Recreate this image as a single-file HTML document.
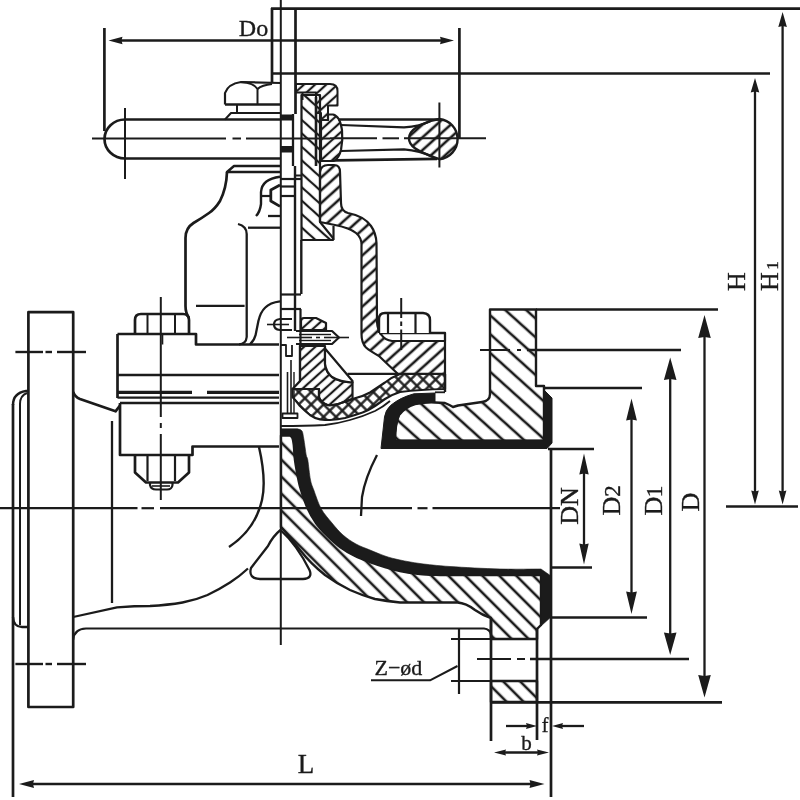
<!DOCTYPE html>
<html><head><meta charset="utf-8"><title>Diaphragm valve</title>
<style>
html,body{margin:0;padding:0;background:#fff;}
body{width:800px;height:800px;overflow:hidden;font-family:"Liberation Serif",serif;}
svg{display:block;filter:grayscale(1) blur(0.35px)}
svg text{font-family:"Liberation Serif",serif;fill:#1b1b1b;stroke:#1b1b1b;stroke-width:0.35px}
</style></head><body>
<svg width="800" height="800" viewBox="0 0 800 800" fill="none" stroke="#1b1b1b" stroke-linecap="butt" stroke-linejoin="round">
<defs>
<!-- "\" hatch, upper flange/body -->
<pattern id="hA" width="14" height="14" patternUnits="userSpaceOnUse" patternTransform="translate(4 0) rotate(42)">
<line x1="-1" y1="7" x2="16" y2="7" stroke="#1b1b1b" stroke-width="2.6"/>
</pattern>
<!-- "\" hatch, lower body -->
<pattern id="hA1" width="12" height="12" patternUnits="userSpaceOnUse" patternTransform="rotate(45)">
<line x1="-1" y1="6" x2="13" y2="6" stroke="#1b1b1b" stroke-width="2.6"/>
</pattern>
<!-- "\" hatch fine, sleeve -->
<pattern id="hA2" width="10" height="10" patternUnits="userSpaceOnUse" patternTransform="translate(0 3) rotate(42)">
<line x1="-1" y1="5" x2="11" y2="5" stroke="#1b1b1b" stroke-width="2.2"/>
</pattern>
<!-- "/" hatch, bonnet -->
<pattern id="hB" width="9.5" height="9.5" patternUnits="userSpaceOnUse" patternTransform="rotate(-42)">
<line x1="-1" y1="4.75" x2="11" y2="4.75" stroke="#1b1b1b" stroke-width="2.6"/>
</pattern>
<!-- "/" hatch fine, small parts -->
<pattern id="hB2" width="7.5" height="7.5" patternUnits="userSpaceOnUse" patternTransform="rotate(-42)">
<line x1="-1" y1="3.75" x2="9" y2="3.75" stroke="#1b1b1b" stroke-width="2.2"/>
</pattern>
<!-- cross hatch, diaphragm -->
<pattern id="hX" width="8.8" height="8.8" patternUnits="userSpaceOnUse" patternTransform="rotate(45)">
<line x1="-1" y1="4.4" x2="10" y2="4.4" stroke="#1b1b1b" stroke-width="2.3"/>
<line x1="4.4" y1="-1" x2="4.4" y2="10" stroke="#1b1b1b" stroke-width="2.3"/>
</pattern>
</defs>

<rect x="0" y="0" width="800" height="800" fill="#fff" stroke="none"/>
<g id="dims">
<line x1="271" y1="8.7" x2="800" y2="8.7" stroke-width="2.7" />
<line x1="272" y1="73.5" x2="770" y2="73.5" stroke-width="2.7" />
<line x1="272" y1="8" x2="272" y2="82" stroke-width="2.7" />
<line x1="295.5" y1="8" x2="295.5" y2="114" stroke-width="2.7" />
<line x1="280.8" y1="0" x2="280.8" y2="645" stroke-width="2" />
<line x1="0" y1="508.2" x2="137.5" y2="508.2" stroke-width="2.2" />
<line x1="141.5" y1="508.2" x2="154" y2="508.2" stroke-width="2.2" />
<line x1="160" y1="508.2" x2="412" y2="508.2" stroke-width="2.2" />
<line x1="417.5" y1="508.2" x2="427.5" y2="508.2" stroke-width="2.2" />
<line x1="432.5" y1="508.2" x2="560" y2="508.2" stroke-width="2.2" />
<line x1="104.4" y1="28" x2="104.4" y2="131" stroke-width="2.7" />
<line x1="459.4" y1="28" x2="459.4" y2="138" stroke-width="2.7" />
<line x1="116" y1="40.5" x2="447" y2="40.5" stroke-width="2.3" />
<polygon points="108.5,40.5 122.5,36.7 121.5,40.5 122.5,44.3" fill="#1b1b1b" stroke="none"/>
<polygon points="454,40.5 440,36.7 441,40.5 440,44.3" fill="#1b1b1b" stroke="none"/>
<text x="253.5" y="35.5" font-size="24" text-anchor="middle" >Do</text>
<line x1="782.6" y1="22" x2="782.6" y2="496" stroke-width="2.3" />
<polygon points="782.6,12 778.3000000000001,27 782.6,26 786.9,27" fill="#1b1b1b" stroke="none"/>
<polygon points="782.6,504.5 778.8000000000001,490.5 782.6,491.5 786.4,490.5" fill="#1b1b1b" stroke="none"/>
<line x1="755" y1="87" x2="755" y2="496" stroke-width="2.3" />
<polygon points="755,78 750.7,92.5 755,91.5 759.3,92.5" fill="#1b1b1b" stroke="none"/>
<polygon points="755,504.5 751.2,490.5 755,491.5 758.8,490.5" fill="#1b1b1b" stroke="none"/>
<line x1="726" y1="506.5" x2="798" y2="506.5" stroke-width="2.7" />
<text x="745" y="281.5" font-size="26" text-anchor="middle" transform="rotate(-90 745 281.5)" >H</text>
<text x="777.5" y="281.5" font-size="26" text-anchor="middle" transform="rotate(-90 777.5 281.5)" >H</text>
<text x="777.5" y="265.5" font-size="17" text-anchor="middle" transform="rotate(-90 777.5 265.5)" >1</text>
<line x1="536" y1="309.5" x2="718" y2="309.5" stroke-width="2.7" />
<line x1="491" y1="702.3" x2="722" y2="702.3" stroke-width="2.7" />
<line x1="704.5" y1="332" x2="704.5" y2="682" stroke-width="2.3" />
<polygon points="704.5,315 698.2,338 704.5,337 710.8,338" fill="#1b1b1b" stroke="none"/>
<polygon points="704.5,697.5 698.2,675.0 704.5,676.0 710.8,675.0" fill="#1b1b1b" stroke="none"/>
<text x="698.7" y="502" font-size="26" text-anchor="middle" transform="rotate(-90 698.7 502)" >D</text>
<line x1="480" y1="350" x2="510" y2="350" stroke-width="2" />
<line x1="517" y1="350" x2="521" y2="350" stroke-width="2" />
<line x1="527" y1="350" x2="681" y2="350" stroke-width="2.7" />
<line x1="477" y1="659" x2="511" y2="659" stroke-width="2" />
<line x1="517" y1="659" x2="525" y2="659" stroke-width="2" />
<line x1="530" y1="659" x2="689" y2="659" stroke-width="2.7" />
<line x1="670.2" y1="377" x2="670.2" y2="638" stroke-width="2.3" />
<polygon points="670.2,357.5 663.9000000000001,380.0 670.2,379.0 676.5,380.0" fill="#1b1b1b" stroke="none"/>
<polygon points="670.2,655 663.9000000000001,632.5 670.2,633.5 676.5,632.5" fill="#1b1b1b" stroke="none"/>
<text x="661.6" y="506" font-size="26" text-anchor="middle" transform="rotate(-90 661.6 506)" >D</text>
<text x="661.6" y="491.5" font-size="24" text-anchor="middle" transform="rotate(-90 661.6 491.5)" >1</text>
<line x1="544" y1="388" x2="642" y2="388" stroke-width="2.7" />
<line x1="551" y1="617.5" x2="647" y2="617.5" stroke-width="2.7" />
<line x1="631.5" y1="417" x2="631.5" y2="598" stroke-width="2.3" />
<polygon points="631.5,398.5 626.1,420.5 631.5,419.5 636.9,420.5" fill="#1b1b1b" stroke="none"/>
<polygon points="631.5,614 626.1,591.5 631.5,592.5 636.9,591.5" fill="#1b1b1b" stroke="none"/>
<text x="620" y="506" font-size="26" text-anchor="middle" transform="rotate(-90 620 506)" >D</text>
<text x="620" y="491" font-size="23" text-anchor="middle" transform="rotate(-90 620 491)" >2</text>
<line x1="548" y1="449" x2="594" y2="449" stroke-width="2.7" />
<line x1="551" y1="567.5" x2="592" y2="567.5" stroke-width="2.7" />
<line x1="584" y1="472" x2="584" y2="548" stroke-width="2.3" />
<polygon points="584,453.5 579.3,474.5 584,473.5 588.7,474.5" fill="#1b1b1b" stroke="none"/>
<polygon points="584,564.5 579.3,543.5 584,544.5 588.7,543.5" fill="#1b1b1b" stroke="none"/>
<text x="577.6" y="506" font-size="26" text-anchor="middle" transform="rotate(-90 577.6 506)" >DN</text>
<line x1="551" y1="449" x2="551" y2="797" stroke-width="2.7" />
<line x1="13" y1="404" x2="13" y2="797" stroke-width="2.7" />
<line x1="31" y1="784" x2="534" y2="784" stroke-width="2.3" />
<polygon points="19,784 34,780 33,784 34,788" fill="#1b1b1b" stroke="none"/>
<polygon points="544.5,784 529.5,780 530.5,784 529.5,788" fill="#1b1b1b" stroke="none"/>
<text x="306" y="772.7" font-size="27" text-anchor="middle" >L</text>
<line x1="506" y1="726" x2="529" y2="726" stroke-width="2.3" />
<polygon points="537,726 526,723 527,726 526,729" fill="#1b1b1b" stroke="none"/>
<line x1="560" y1="726" x2="584" y2="726" stroke-width="2.3" />
<polygon points="552,726 563,723 562,726 563,729" fill="#1b1b1b" stroke="none"/>
<text x="545" y="732" font-size="20" text-anchor="middle" >f</text>
<line x1="503" y1="752.5" x2="540" y2="752.5" stroke-width="2.3" />
<polygon points="494,752.5 506,749.5 505,752.5 506,755.5" fill="#1b1b1b" stroke="none"/>
<polygon points="549,752.5 537,749.5 538,752.5 537,755.5" fill="#1b1b1b" stroke="none"/>
<text x="526.5" y="750" font-size="21" text-anchor="middle" >b</text>
<text x="374.5" y="675" font-size="22" text-anchor="start" >Z&#8722;&#248;d</text>
<path d="M371 680.3 H430 L457.5 666" stroke-width="2" fill="none" />
<line x1="459" y1="629" x2="459" y2="694" stroke-width="2.2" />
</g>
<g id="left">
<path d="M28.4 312.2 H73.2 V707 H28.4 Z" stroke-width="2.7" fill="none" />
<path d="M28.4 391 H26 Q13 393 13 405" stroke-width="2.4" fill="none" />
<path d="M13 617 Q13.5 627 22 627 H28.4" stroke-width="2.4" fill="none" />
<path d="M27 393 Q20 395.5 20 404 V625" stroke-width="2" fill="none" />
<line x1="15.4" y1="352" x2="43" y2="352" stroke-width="2.4" />
<line x1="45.5" y1="352" x2="52" y2="352" stroke-width="2.4" />
<line x1="57" y1="352" x2="86" y2="352" stroke-width="2.4" />
<line x1="15.4" y1="664" x2="43" y2="664" stroke-width="2.4" />
<line x1="45.5" y1="664" x2="52" y2="664" stroke-width="2.4" />
<line x1="57" y1="664" x2="86" y2="664" stroke-width="2.4" />
<path d="M73.2 392 Q75 397 80 399 L115.5 411.3 L120 405.6" stroke-width="2.7" fill="none" />
<line x1="112" y1="421" x2="112" y2="603" stroke-width="2.3" />
<path d="M73.2 617 L117 607.4 Q135 606 150 606 Q168 605 182.5 602.5 Q196 600 207.5 595 Q220 589 230 582.5 Q240 576 248 568.5" stroke-width="2.3" fill="none" />
<path d="M73.2 640 Q74 629 86 628.5 H484 Q490 629 491 635" stroke-width="2" fill="none" />
<path d="M117.5 334 H196 V344.5 H279" stroke-width="2.7" fill="none" />
<path d="M117.5 334 V398" stroke-width="2.7" fill="none" />
<line x1="162.5" y1="344.5" x2="162.5" y2="334" stroke-width="1.6" />
<line x1="117.5" y1="375" x2="279" y2="375" stroke-width="2.7" />
<line x1="117.5" y1="392.3" x2="192" y2="392.3" stroke-width="3.3" />
<line x1="207" y1="392.3" x2="279" y2="392.3" stroke-width="3.3" />
<line x1="117.5" y1="397.7" x2="279" y2="397.7" stroke-width="2.2" />
<line x1="120" y1="403" x2="279" y2="403" stroke-width="2.7" />
<path d="M120 403 V455 H192.5 V446.5 H279" stroke-width="2.7" fill="none" />
<path d="M135 334 V320 Q135 314 141 314 H183 Q189 314 189 320 V334" stroke-width="2.7" fill="none" />
<line x1="147.5" y1="314" x2="147.5" y2="334" stroke-width="2" />
<line x1="175" y1="314" x2="175" y2="334" stroke-width="2" />
<path d="M135 455 V472.5 L146 482.5 H178 L189 472.5 V455" stroke-width="2.7" fill="none" />
<line x1="147.5" y1="455" x2="147.5" y2="481" stroke-width="2.2" />
<line x1="175" y1="455" x2="175" y2="481" stroke-width="2.2" />
<path d="M150 482.5 V485 Q151 489.5 156 489.5 H167 Q172 489.5 172.5 485 V482.5" stroke-width="2.2" fill="none" />
<line x1="152" y1="486" x2="170" y2="486" stroke-width="1.6" />
<line x1="160.8" y1="297" x2="160.8" y2="417" stroke-width="2" />
<line x1="160.8" y1="423" x2="160.8" y2="428" stroke-width="2" />
<line x1="160.8" y1="434" x2="160.8" y2="500" stroke-width="2" />
<path d="M280 166 H234 L227 172 H280" stroke-width="2.4" fill="none" />
<path d="M227 172 Q226.5 188 220 201 Q215 209 209 213 Q202 218 193.5 223 Q185.5 228 185.5 238 V306 Q185.5 313 189 318" stroke-width="2.7" fill="none" />
<path d="M238 224 Q246.5 226 246.7 234 V337 Q246 344 239 344.4" stroke-width="2.3" fill="none" />
<line x1="196" y1="305.9" x2="244.6" y2="305.9" stroke-width="2.3" />
<line x1="248" y1="227.7" x2="280" y2="227.7" stroke-width="2.3" />
<line x1="268" y1="216" x2="280" y2="216" stroke-width="2.3" />
<path d="M280 176.8 Q262 179 261 192 V204 Q260 212 256 216" stroke-width="2.4" fill="none" />
<path d="M280 185 L270.8 190 V201 L280 206.4" stroke-width="2.8" fill="none" />
<line x1="261" y1="196" x2="271" y2="196" stroke-width="2.2" />
<path d="M250 344.4 Q254.5 340 255.6 335 L258.4 321 Q260.5 312 265.3 307.5 Q270 302.5 280 301.3" stroke-width="2.3" fill="none" />
<path d="M259 447 Q266.5 480 262 500 Q255 530 229 547" stroke-width="2.4" fill="none" />
<path d="M280.5 530 Q273 536 268 546 L251 568 Q248 578.5 260 579 H303 Q313 578.5 309.5 570 Q297 545 280.5 530 Z" stroke-width="2.3" fill="none" />
<path d="M280 119.5 H125 A20.5 19.5 0 0 0 125 158.5 H280" stroke-width="2.7" fill="none" />
<line x1="125" y1="108" x2="125" y2="179" stroke-width="2" />
<line x1="92" y1="138.5" x2="226" y2="138.5" stroke-width="2" />
<line x1="232.5" y1="138.5" x2="241" y2="138.5" stroke-width="2" />
<line x1="246" y1="138.5" x2="330" y2="138.5" stroke-width="2" />
<path d="M225 119.5 L231 113 H280" stroke-width="2" fill="none" />
<line x1="237" y1="104.5" x2="237" y2="113" stroke-width="2" />
<path d="M225 104.5 V93 Q228 84 241 82 L281 83" stroke-width="2.2" fill="none" />
<line x1="225" y1="104.5" x2="281" y2="104.5" stroke-width="2.7" />
<path d="M241 82 Q254 83 257.5 89 V104.5" stroke-width="2" fill="none" />
<path d="M257.5 89 Q262 85 272 84" stroke-width="2" fill="none" />
</g>
<g id="right">
<path d="M435 402.5 L445 403 Q450 405 453 407 L458 405.5 L482 402 Q490 401 490 394 V309.5 H536 V386 H544 V441 H395 Q395 424 399 415 Q405 407 415 404 Q426 402 435 402.5 Z" stroke-width="2.4" fill="url(#hA)" />
<path d="M381 448.5 L384.5 417 Q385.5 410 390.5 405.5 Q400 397.5 414 393.8 L435 393 V402.5 Q426 402 415 404 Q405 407 399.5 415 Q395.5 424 395.5 440 H544 V390 L552 398 V443 L547 448.5 Z" stroke-width="1" fill="#1b1b1b" />
<path d="M281 435.5 H290 C290.4 435.9 291.9 436.4 292.5 438.0 C293.1 439.6 293.3 441.3 293.8 445.0 C294.2 448.7 294.2 454.2 295.0 460.0 C295.8 465.8 297.5 475.0 298.5 480.0 C299.5 485.0 299.5 485.2 301.0 490.0 C302.5 494.8 305.2 503.2 307.8 508.8 C310.2 514.2 312.9 518.6 316.0 523.0 C319.1 527.4 322.5 531.0 326.5 535.0 C330.5 539.0 335.2 543.5 340.0 547.0 C344.8 550.5 350.0 553.5 355.0 556.0 C360.0 558.5 365.0 560.2 370.0 562.0 C375.0 563.8 380.0 565.5 385.0 567.0 C390.0 568.5 394.2 569.8 400.0 571.0 C405.8 572.2 413.3 573.3 420.0 574.0 C426.7 574.7 436.7 574.8 440.0 575.0 H541 V625 L537 629 V639 H491 V618 Q482 615 475 610 Q466 603 457.5 602.5 H400 Q386 601 375 599 Q361 595 350 590 Q336 583 325 575 Q311 564 300 550 Q289 536 281 527 Z" stroke-width="2.4" fill="url(#hA1)" />
<path d="M491 681 H537 V702 H491 Z" stroke-width="2.4" fill="url(#hA1)" />
<line x1="491" y1="618" x2="491" y2="741" stroke-width="2.7" />
<line x1="537" y1="629" x2="537" y2="740" stroke-width="2.7" />
<line x1="451" y1="639" x2="537" y2="639" stroke-width="2" />
<line x1="451" y1="681" x2="537" y2="681" stroke-width="2" />
<path d="M281 428.8 H297.5 C298.2 429.2 301.0 429.3 302.0 431.0 C303.0 432.7 303.0 434.8 303.8 438.8 C304.5 442.8 305.6 451.5 306.2 455.0 C306.9 458.5 307.0 455.8 307.8 460.0 C308.5 464.2 309.5 475.0 310.5 480.0 C311.5 485.0 312.0 485.2 313.8 490.0 C315.5 494.8 318.2 503.2 321.2 508.8 C324.3 514.2 328.4 518.6 332.0 523.0 C335.6 527.4 339.0 531.5 343.0 535.0 C347.0 538.5 351.5 541.5 356.0 544.0 C360.5 546.5 365.2 548.0 370.0 550.0 C374.8 552.0 380.0 554.3 385.0 556.0 C390.0 557.7 394.2 558.8 400.0 560.0 C405.8 561.2 411.7 562.4 420.0 563.5 C428.3 564.6 436.7 565.6 450.0 566.5 C463.3 567.4 484.8 568.6 500.0 569.0 C515.2 569.4 534.2 569.0 541.0 569.0 L551 576 V617 L541 626 V575 H440 C436.7 574.8 426.7 574.7 420.0 574.0 C413.3 573.3 405.8 572.2 400.0 571.0 C394.2 569.8 390.0 568.5 385.0 567.0 C380.0 565.5 375.0 563.8 370.0 562.0 C365.0 560.2 360.0 558.5 355.0 556.0 C350.0 553.5 344.8 550.5 340.0 547.0 C335.2 543.5 330.5 539.0 326.5 535.0 C322.5 531.0 319.1 527.4 316.0 523.0 C312.9 518.6 310.2 514.2 307.8 508.8 C305.2 503.2 302.5 494.8 301.0 490.0 C299.5 485.2 299.5 485.0 298.5 480.0 C297.5 475.0 295.8 465.8 295.0 460.0 C294.2 454.2 294.2 448.7 293.8 445.0 C293.3 441.3 293.1 439.6 292.5 438.0 C291.9 436.4 290.4 435.9 290.0 435.5 H281 Z" stroke-width="0.6" fill="#1b1b1b" />
<path d="M377 455 Q365 478 362 497 L361 516" stroke-width="2.3" fill="none" />
<path d="M320 222 V172 Q321 165 328 165 H334 Q340 165 340 172 L341 203 Q341 211 348 213 Q364 216 371 226 Q376 233 376.5 243 L377 322 Q377.5 331 382 335.5 Q385 340 392 341 H445 V374 H398 Q391 367.5 379 356 Q370 351 366 347.5 Q361.5 343 361.5 334 V246 Q362 238 356 233 Q350 228 335 225 Z" stroke-width="2.2" fill="url(#hB)" />
<path d="M379 333 H445 V341" stroke-width="2.3" fill="none" />
<path d="M379 333 V319 Q379 313 385 313 H423 Q430 313.5 430 320 V333" stroke-width="2.4" fill="#fff" />
<line x1="388" y1="313" x2="388" y2="333" stroke-width="2.2" />
<line x1="415.5" y1="313" x2="415.5" y2="333" stroke-width="2.2" />
<line x1="401.2" y1="298" x2="401.2" y2="318" stroke-width="2" />
<line x1="401.2" y1="321.5" x2="401.2" y2="326" stroke-width="2" />
<line x1="401.2" y1="329.5" x2="401.2" y2="350" stroke-width="2" />
<path d="M301.5 95 H320 V222 L333 238 V240 H301.5 Z" stroke-width="2.2" fill="url(#hA2)" />
<line x1="316" y1="97" x2="316" y2="166" stroke-width="2.6" />
<line x1="333.5" y1="226" x2="333.5" y2="240" stroke-width="2.2" />
<line x1="281" y1="179" x2="301" y2="179" stroke-width="2.2" />
<line x1="295" y1="175.5" x2="301" y2="175.5" stroke-width="2" />
<line x1="281" y1="186.5" x2="295" y2="186.5" stroke-width="2.2" />
<line x1="281" y1="196" x2="295" y2="196" stroke-width="2.2" />
<path d="M296 84 H330 Q337.5 84 337.5 91 V105.5 H328 V120 H321 V113 H316 V92.5 H296 Z" stroke-width="2" fill="url(#hB2)" />
<line x1="302.5" y1="92.5" x2="302.5" y2="100" stroke-width="2" />
<path d="M321 120 H328 V114.5 H333 Q340 116 342 130 Q343 140 341 150 Q339 158 334 161 H321 Z" stroke-width="2.2" fill="url(#hB2)" />
<line x1="338" y1="119.5" x2="440" y2="119.5" stroke-width="2.7" />
<path d="M341 125 L404 127.3 Q420 126.5 431 120.8" stroke-width="2.2" fill="none" />
<path d="M341 151 L404 149.3 Q420 150.5 433 157" stroke-width="2.2" fill="none" />
<line x1="335" y1="160.3" x2="437" y2="158.8" stroke-width="2.7" />
<path d="M439.4 119 A20.2 20.2 0 0 1 439.4 159.2 L433 157 C422 152 409 148 409 138.5 C409 129 422 124 431 120.8 Z" stroke-width="2.4" fill="url(#hB)" />
<line x1="439.4" y1="102.5" x2="439.4" y2="167.5" stroke-width="2" />
<line x1="330" y1="138.3" x2="377" y2="138.3" stroke-width="2" />
<line x1="382.5" y1="138.3" x2="399" y2="138.3" stroke-width="2" />
<line x1="404" y1="138.3" x2="486" y2="138.3" stroke-width="2" />
<line x1="293" y1="114" x2="293" y2="166" stroke-width="2.3" />
<line x1="295" y1="166" x2="295" y2="331" stroke-width="2.4" />
<line x1="301.3" y1="240" x2="301.3" y2="294" stroke-width="2.4" />
<rect x="281" y="114.5" width="12" height="6" fill="#1b1b1b" stroke="none"/>
<rect x="281" y="146" width="12" height="6.5" fill="#1b1b1b" stroke="none"/>
<path d="M445 374 H400 Q392 377 385 382.5 L370 392.5 Q362 397 352.5 399 Q347 401 342.5 402.5 Q333 406 327.5 405 Q321 403 319 397.5 V389 H292.5 V397 Q297 402 300 406 Q305 411 310 415 Q315 418.5 320 419.4 Q325 420 330 420 Q338 419.5 345 418 Q354 415.5 362.5 412.5 Q369 410 375 406 L385 399 Q392 394.5 400 392 Q420 389.5 445 389 Z" stroke-width="2.2" fill="url(#hX)" />
<line x1="347.5" y1="373.8" x2="445" y2="373.8" stroke-width="2.2" />
<path d="M281 426 Q305 426 325 425 Q338 423.5 350 420 Q363 416.5 375 411 Q383 407 390 401" stroke-width="1.8" fill="none" />
<line x1="435" y1="392.3" x2="445" y2="392.3" stroke-width="1.8" />
<line x1="445" y1="374" x2="445" y2="392" stroke-width="2.4" />
<path d="M300 346 H325 V364 Q326 372 332 377 Q340 382 352.5 382.5 V399 Q347 401 342.5 402.5 Q333 406 327.5 405 Q321 403 319 397.5 V389 H292.5 L300 381 Z" stroke-width="2.2" fill="url(#hB2)" />
<path d="M325 348.5 L352.5 381 V382.5 Q340 382 332 377 Q326 372 325 364 Z" stroke-width="2.2" fill="#fff" />
<path d="M301 330 V321 Q301 318 304 318 H316 L326 323 V330 Z" stroke-width="2.2" fill="url(#hB2)" />
<path d="M296 331 H332 L339 337.5 L332 344 H296" stroke-width="2.2" fill="#fff" />
<line x1="299" y1="334.5" x2="331" y2="334.5" stroke-width="1.4" />
<line x1="299" y1="340.5" x2="331" y2="340.5" stroke-width="1.4" />
<line x1="287" y1="337.5" x2="312" y2="337.5" stroke-width="1.6" />
<line x1="316" y1="337.5" x2="320" y2="337.5" stroke-width="1.6" />
<line x1="324" y1="337.5" x2="349" y2="337.5" stroke-width="1.6" />
<path d="M292 319 H280 Q274 319.5 274 324.5 Q274 329.5 280 330 H292" stroke-width="2.2" fill="none" />
<line x1="267" y1="324.5" x2="289" y2="324.5" stroke-width="1.6" />
<line x1="281" y1="294.5" x2="301" y2="294.5" stroke-width="2.2" />
<line x1="281" y1="309" x2="301" y2="309" stroke-width="2.2" />
<line x1="300.5" y1="309" x2="300.5" y2="345" stroke-width="2.2" />
<path d="M282.5 413.5 H297.5 V418 H282.5 Z" stroke-width="1.8" fill="none" />
<line x1="287.5" y1="372" x2="287.5" y2="413" stroke-width="1.6" />
<line x1="291" y1="360" x2="291" y2="413" stroke-width="1.6" />
<line x1="294" y1="372" x2="294" y2="413" stroke-width="1.4" />
<path d="M300 345 V381" stroke-width="2.2" fill="none" />
<path d="M281 345 H286 V356 H292 V345" stroke-width="1.8" fill="none" />
</g>
</svg>
</body></html>
